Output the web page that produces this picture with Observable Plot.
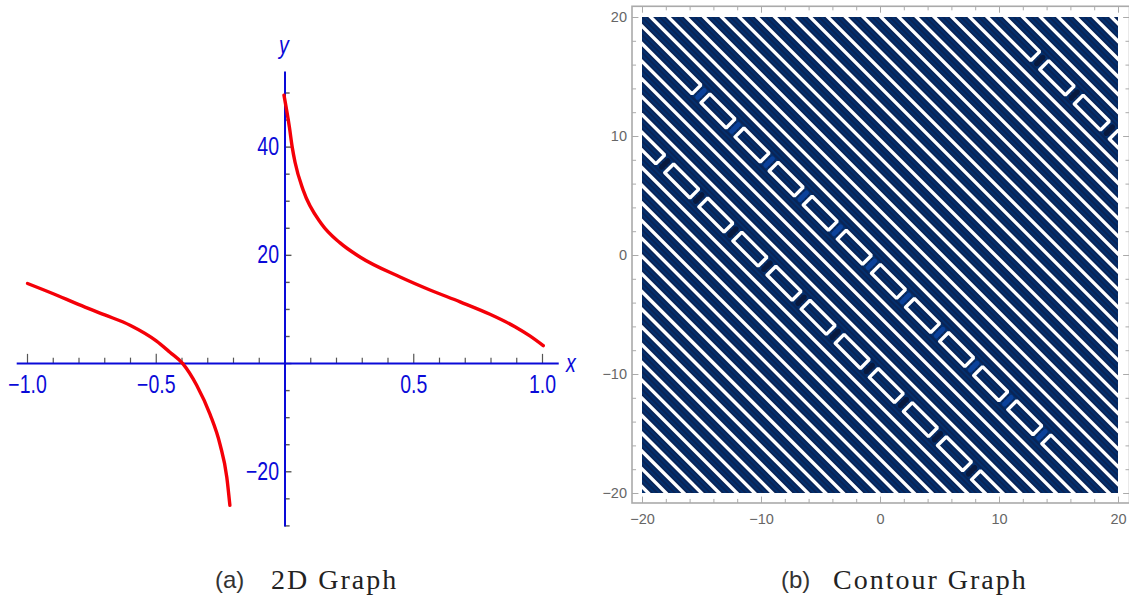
<!DOCTYPE html>
<html>
<head>
<meta charset="utf-8">
<script src="https://cdn.jsdelivr.net/npm/d3@7"></script>
<script src="https://cdn.jsdelivr.net/npm/@observablehq/plot@0.6"></script>
<style>
html,body{margin:0;padding:0;background:#fff}
#page{position:relative;width:1129px;height:598px;overflow:hidden}
#page svg{position:absolute;top:0}
.cap{position:absolute;top:562px;white-space:nowrap;line-height:36px;color:#222}
.cap .tag{font-family:"Liberation Sans";font-size:24px;color:#333}
.cap .txt{font-family:"Liberation Serif";font-size:28px;letter-spacing:2px;position:absolute;top:0}
</style>
</head>
<body>
<div id="page">
<div class="cap" style="left:215px"><span class="tag">(a)</span><span class="txt" style="left:56px">2D Graph</span></div>
<div class="cap" style="left:781px"><span class="tag">(b)</span><span class="txt" style="left:52px">Contour Graph</span></div>
</div>
<script>
// ---- Panel (a): curve
const leftBranchX = [-1,-0.9,-0.8,-0.7,-0.6,-0.5,-0.447,-0.397,-0.343,-0.291,-0.252,-0.226,-0.214];
const leftBranchY = [14.8,12.9,10.9,9,7.05,4.2,2.1,0,-4,-9.4,-15,-21,-26.2];
const rightBranchX = [-0.004,0.017,0.028,0.039,0.071,0.142,0.214,0.291,0.447,0.563,0.68,0.796,0.893,0.951,1.003];
const rightBranchY = [49.6,43.7,40,37.2,32,25.8,22.3,19.7,16,13.6,11.4,9.1,6.8,5.1,3.3];
const xMajor = [-1,-0.5,0.5,1];
const xMajorLabels = ["−1.0","−0.5","0.5","1.0"];
const xMinor = [-0.9,-0.8,-0.7,-0.6,-0.4,-0.3,-0.2,-0.1,0.1,0.2,0.3,0.4,0.6,0.7,0.8,0.9];
const yMajor = [-20,20,40];
const yMajorLabels = ["−20","20","40"];
const yMinor = [-30,-25,-15,-10,-5,5,10,15,25,30,35,45,50];

// ---- Panel (b): contour levels of x + y
const stripeLevels = [-39.47,-37.98,-36.49,-35,-33.51,-32.03,-30.54,-29.05,-27.56,-26.07,-24.58,-23.09,-21.6,-20.11,-18.62,-17.14,-15.65,-14.16,-12.67,-11.18,-9.69,-8.2,-6.71,-5.22,-3.73,-2.25,-0.76,0.73,2.22,3.71,5.2,6.69,8.18,9.67,11.16,12.65,14.13,15.62,17.11,18.6,20.09,21.58,23.07,24.56,26.05,27.54,29.02,30.51,32,33.49,34.98,36.47,37.96,39.45];
const chainBands = [[-11.18,-9.69],[-2.25,-0.76],[29.02,30.51]];
const chainGaps = [
  [-25.83,-20.1,-14.37,-8.64,-2.91,2.82,8.55,14.28,20.01,25.74],
  [-28.67,-22.94,-17.21,-11.48,-5.75,-0.02,5.71,11.44,17.17,22.9,28.63],
  [-3,2.8,8.7]
];
const chainGapColors = ["#08193f","#0b419a","#08193f"];
const fineOffsets = [0.3,0.75,1.2];
const contourTicksMajor = [-20,-10,0,10,20];
const contourTicksMajorLabels = ["−20","−10","0","10","20"];
const contourTicksMinor = [-18,-16,-14,-12,-8,-6,-4,-2,2,4,6,8,12,14,16,18];

const blue = "#0a0ad8", tickGray = "#555", frameGray = "#aaa", labelGray = "#666";
const sans = "Liberation Sans";

const page = document.getElementById("page");

// ---------- left plot
const leftPts = leftBranchX.map((x,i)=>({x,y:leftBranchY[i]}));
const rightPts = rightBranchX.map((x,i)=>({x,y:rightBranchY[i]}));
const left = Plot.plot({
  width:590,height:545,marginLeft:27,marginRight:48,marginTop:92.5,marginBottom:19.6,
  x:{domain:[-1,1],axis:null},y:{domain:[-30,50],axis:null},
  style:{background:"transparent"},
  marks:[
    Plot.ruleX(xMajor,{x:d=>d,y1:0,y2:1.7,stroke:tickGray,strokeWidth:1.2}),
    Plot.ruleX(xMinor,{x:d=>d,y1:0,y2:1,stroke:tickGray,strokeWidth:1.2}),
    Plot.ruleY(yMajor.concat([0]),{y:d=>d,x1:0,x2:0.027,stroke:tickGray,strokeWidth:1.4}),
    Plot.ruleY(yMinor,{y:d=>d,x1:0,x2:0.02,stroke:tickGray,strokeWidth:1.4}),
    Plot.ruleY([0],{x1:-1.04,x2:1.065,stroke:blue,strokeWidth:2}),
    Plot.ruleX([0],{y1:-30.2,y2:53.9,stroke:blue,strokeWidth:2}),
    Plot.line(leftPts,{x:"x",y:"y",stroke:"#f40008",strokeWidth:3.4,curve:"monotone-x"}),
    Plot.line(rightPts,{x:"x",y:"y",stroke:"#f40008",strokeWidth:3.4,curve:"monotone-x"}),
    Plot.text(xMajor,{x:d=>d,y:0,text:(d,i)=>xMajorLabels[i],dy:21,fill:blue,fontSize:25,fontFamily:sans}),
    Plot.text(yMajor,{x:0,y:d=>d,text:(d,i)=>yMajorLabels[i],dx:-6,textAnchor:"end",fill:blue,fontSize:25,fontFamily:sans}),
    Plot.text(["x"],{x:1.11,y:0,text:d=>d,fill:blue,fontSize:25,fontStyle:"italic",fontFamily:sans}),
    Plot.text(["y"],{x:-0.004,y:58.7,text:d=>d,fill:blue,fontSize:25,fontStyle:"italic",fontFamily:sans})
  ]
});
left.style.left="0px";
page.appendChild(left);
// the reference's axis labels use a condensed face
left.querySelectorAll("text").forEach(t=>{
  const w = t.getComputedTextLength();
  t.setAttribute("lengthAdjust","spacingAndGlyphs");
  t.setAttribute("textLength",(w*0.78).toFixed(1));
});

// ---------- right plot
const pt = (c,t,id)=>({x:(c+t)/2,y:(c-t)/2,id});
const chainLevels = chainBands.flat();
const plainLines = stripeLevels.filter(c=>!chainLevels.includes(c))
  .flatMap((c,i)=>[pt(c,-60,"s"+i),pt(c,60,"s"+i)]);
const fineLines = stripeLevels.flatMap((c,i)=>fineOffsets.flatMap((o,j)=>[pt(c+o,-60,`f${i}-${j}`),pt(c+o,60,`f${i}-${j}`)]));
const halfGap = 0.75;
const cells = [], gapBars = [];
chainBands.forEach(([c1,c2],b)=>{
  const gaps = chainGaps[b];
  const starts = [-60].concat(gaps.map(g=>g+halfGap));
  const ends = gaps.map(g=>g-halfGap).concat([60]);
  starts.forEach((a,i)=>{
    const e = ends[i], id = `c${b}-${i}`;
    cells.push(pt(c1,a,id),pt(c1,e,id),pt(c2,e,id),pt(c2,a,id),pt(c1,a,id));
  });
  gaps.forEach((g,i)=>{
    const id=`g${b}-${i}`;
    gapBars.push({...pt(c1+0.2,g,id),b},{...pt(c2-0.2,g,id),b});
  });
});
const right = Plot.plot({
  width:539,height:545,marginLeft:52,marginRight:11,marginTop:17,marginBottom:52,
  x:{domain:[-20,20],axis:null},y:{domain:[-20,20],axis:null},
  color:{type:"identity"},
  style:{background:"transparent"},
  marks:[
    Plot.rect([0],{x1:-20,x2:20,y1:-20,y2:20,fill:"#03306f"}),
    Plot.line(fineLines,{x:"x",y:"y",z:"id",stroke:"#0a2456",strokeWidth:2,clip:true}),
    Plot.line(gapBars,{x:"x",y:"y",z:"id",stroke:d=>chainGapColors[d.b],strokeWidth:5,clip:true}),
    Plot.line(plainLines,{x:"x",y:"y",z:"id",stroke:"#fff",strokeWidth:3.4,clip:true}),
    Plot.line(cells,{x:"x",y:"y",z:"id",stroke:"#fff",strokeWidth:3.4,strokeLinejoin:"miter",clip:true}),
    Plot.rect([0],{x1:-20.84,x2:20.97,y1:-20.84,y2:20.9,fill:"none",stroke:frameGray,strokeWidth:1.6}),
    Plot.ruleX(contourTicksMajor,{x:d=>d,y1:-20.84,y2:-20.3,stroke:frameGray,strokeWidth:1}),
    Plot.ruleX(contourTicksMinor,{x:d=>d,y1:-20.84,y2:-20.5,stroke:frameGray,strokeWidth:1}),
    Plot.ruleX(contourTicksMajor,{x:d=>d,y1:20.9,y2:20.36,stroke:frameGray,strokeWidth:1}),
    Plot.ruleX(contourTicksMinor,{x:d=>d,y1:20.9,y2:20.56,stroke:frameGray,strokeWidth:1}),
    Plot.ruleY(contourTicksMajor,{y:d=>d,x1:-20.84,x2:-20.3,stroke:frameGray,strokeWidth:1}),
    Plot.ruleY(contourTicksMinor,{y:d=>d,x1:-20.84,x2:-20.5,stroke:frameGray,strokeWidth:1}),
    Plot.ruleY(contourTicksMajor,{y:d=>d,x1:20.97,x2:20.43,stroke:frameGray,strokeWidth:1}),
    Plot.ruleY(contourTicksMinor,{y:d=>d,x1:20.97,x2:20.63,stroke:frameGray,strokeWidth:1}),
    Plot.text(contourTicksMajor,{x:d=>d,y:-20.84,text:(d,i)=>contourTicksMajorLabels[i],dy:16,fill:labelGray,fontSize:14.5,fontFamily:sans}),
    Plot.text(contourTicksMajor,{x:-20.84,y:d=>d,text:(d,i)=>contourTicksMajorLabels[i],dx:-5.5,textAnchor:"end",fill:labelGray,fontSize:14.5,fontFamily:sans})
  ]
});
right.style.left="590px";
page.appendChild(right);
</script>
</body>
</html>
